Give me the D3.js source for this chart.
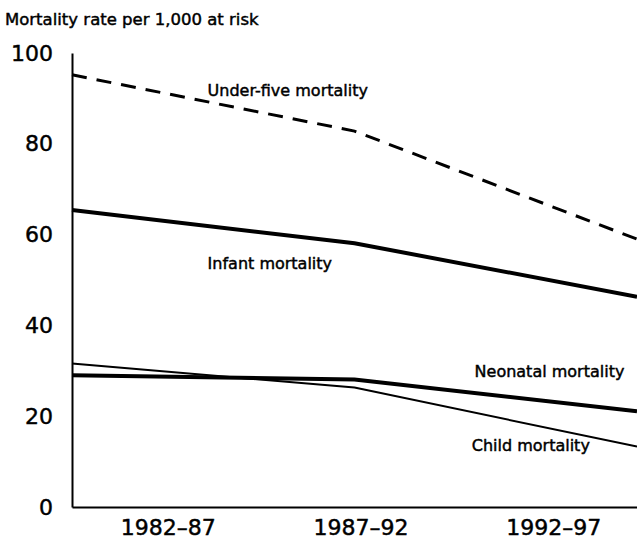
<!DOCTYPE html>
<html>
<head>
<meta charset="utf-8">
<script src="https://cdn.jsdelivr.net/npm/d3@7"></script>
<style>
  body { margin: 0; background: #fff; }
  svg { display: block; }
  text { font-family: "DejaVu Sans", sans-serif; fill: #000; stroke: #000; stroke-width: 0.45px; }
</style>
</head>
<body>
<svg id="chart" width="637" height="539"></svg>
<script>
// data
const periods = ["1982\u201387", "1987\u201392", "1992\u201397"];
const yTicks = [0, 20, 40, 60, 80, 100];
const underFive = [95.2, 82.8, 59.0];
const infant = [65.4, 58.1, 46.3];
const neonatal = [29.0, 28.1, 21.1];
const child = [31.6, 26.3, 13.3];

const svg = d3.select("#chart");
const mLeft = 72, mRight = 637, mTop = 53, mBottom = 507;

const y = d3.scaleLinear().domain([0, 100]).range([mBottom, mTop]);
const x = d3.scaleLinear().domain([0, periods.length - 1]).range([mLeft, mRight]);
const xBand = d3.scaleBand().domain(periods).range([mLeft, 650]);

// y axis
svg.append("g")
  .attr("transform", "translate(" + mLeft + ",0)")
  .call(d3.axisLeft(y).tickValues(yTicks).tickSize(0).tickPadding(19).tickSizeOuter(0))
  .call(g => g.select(".domain").attr("stroke", "#000").attr("stroke-width", 2))
  .call(g => g.selectAll("text").attr("font-size", 22).attr("font-family", "DejaVu Sans"));

// x axis
svg.append("g")
  .attr("transform", "translate(0," + mBottom + ")")
  .call(d3.axisBottom(xBand).tickSize(0).tickPadding(12).tickSizeOuter(0))
  .call(g => g.select(".domain").attr("stroke", "#000").attr("stroke-width", 2))
  .call(g => g.selectAll("text").attr("font-size", 22).attr("font-family", "DejaVu Sans"));

svg.append("text")
  .attr("x", 5).attr("y", 25)
  .attr("font-size", 16.5)
  .text("Mortality rate per 1,000 at risk");

const line = d3.line()
  .x((d, i) => x(i))
  .y(d => y(d));

const series = [
  { values: underFive, width: 3, dash: "15,10" },
  { values: infant, width: 4, dash: null },
  { values: neonatal, width: 4, dash: null },
  { values: child, width: 2, dash: null }
];

svg.selectAll("path.series")
  .data(series)
  .join("path")
  .attr("class", "series")
  .attr("fill", "none")
  .attr("stroke", "#000")
  .attr("stroke-width", d => d.width)
  .attr("stroke-dasharray", d => d.dash)
  .attr("d", d => line(d.values));

// labels, placed in data units
const labels = [
  { text: "Under-five mortality", i: 0.48, v: 90.6 },
  { text: "Infant mortality", i: 0.48, v: 52.4 },
  { text: "Neonatal mortality", i: 1.425, v: 28.6 },
  { text: "Child mortality", i: 1.415, v: 12.3 }
];

svg.selectAll("text.lab")
  .data(labels)
  .join("text")
  .attr("class", "lab")
  .attr("x", d => x(d.i))
  .attr("y", d => y(d.v))
  .attr("font-size", 16)
  .text(d => d.text);
</script>
</body>
</html>
